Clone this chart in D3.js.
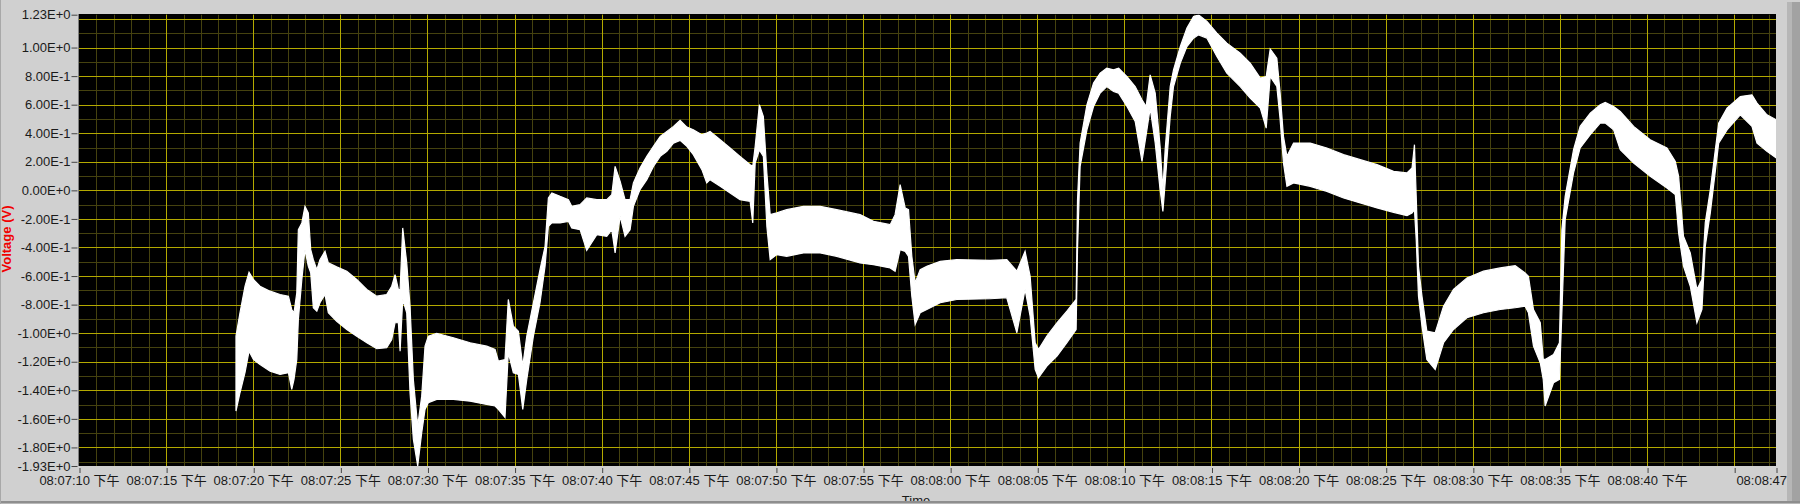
<!DOCTYPE html>
<html><head><meta charset="utf-8">
<script src="https://cdn.jsdelivr.net/npm/d3@7"></script>
<style>html,body{margin:0;padding:0;background:#d0d0d0;overflow:hidden}</style>
</head><body><svg id="c" width="1800" height="504"></svg>
<script>
// ---------------- data ----------------
// seconds after 08:07:10 PM
const timeOffsets = [
 9.01, 9.24, 9.53, 9.76, 10.01, 10.39, 10.97, 11.54, 12.02, 12.21,
 12.34, 12.50, 12.59, 12.79, 12.97, 13.16, 13.30, 13.45, 13.65, 13.83,
 14.12, 14.31, 14.79, 15.37, 15.94, 16.52, 17.09, 17.66, 17.95, 18.14,
 18.33, 18.43, 18.58, 18.81, 19.00, 19.19, 19.44, 19.67, 19.86, 20.05,
 20.53, 21.49, 22.45, 23.40, 23.88, 24.07, 24.45, 24.64, 24.93, 25.22,
 25.47, 25.70, 26.08, 26.46, 26.75, 26.94, 27.14, 27.61, 28.09, 28.28,
 28.76, 29.14, 29.72, 30.29, 30.58, 30.77, 31.06, 31.34, 31.63, 31.82,
 32.20, 32.59, 32.97, 33.36, 33.74, 34.12, 34.50, 34.89, 35.26, 35.75,
 36.03, 36.22, 36.80, 37.37, 37.94, 38.52, 38.67, 38.81, 39.05, 39.28,
 39.48, 39.67, 40.05, 40.62, 41.58, 42.54, 43.49, 44.83, 45.60, 46.56,
 46.84, 47.13, 47.42, 47.61, 47.80, 47.99, 48.28, 48.66, 49.43, 50.38,
 52.30, 53.25, 53.83, 54.30, 54.59, 54.88, 55.07, 55.55, 56.13, 56.70,
 57.23, 57.31, 57.46, 57.85, 58.23, 58.61, 58.99, 59.38, 59.67, 60.15,
 60.62, 61.01, 61.25, 61.48, 61.77, 62.05, 62.21, 62.34, 62.63, 62.82,
 63.21, 63.59, 63.97, 64.26, 64.74, 65.31, 65.88, 66.65, 67.22, 67.80,
 68.14, 68.37, 68.75, 68.94, 69.13, 69.33, 69.71, 70.67, 71.62, 72.58,
 73.54, 74.50, 75.45, 76.22, 76.51, 76.65, 76.75, 76.88, 77.08, 77.36,
 77.84, 78.32, 78.89, 79.66, 80.61, 81.57, 82.43, 83.00, 83.19, 83.48,
 83.87, 84.04, 84.15, 84.63, 84.97, 85.11, 85.30, 85.78, 86.16, 86.74,
 87.31, 87.60, 88.08, 88.46, 89.23, 90.18, 91.14, 91.62, 91.81, 92.09,
 92.48, 92.86, 93.15, 93.34, 93.63, 94.11, 94.59, 95.35, 96.02, 96.31,
 96.88, 97.42
];
// upper envelope of the noisy voltage trace (V)
const upperV = [
 -1.021, -0.857, -0.671, -0.573, -0.624, -0.671, -0.706, -0.729, -0.741, -0.834,
 -0.857, -0.717, -0.275, -0.228, -0.112, -0.158, -0.415, -0.485, -0.555, -0.485,
 -0.427, -0.508, -0.536, -0.566, -0.624, -0.694, -0.741, -0.729, -0.671, -0.590,
 -0.694, -0.694, -0.263, -0.508, -0.811, -1.324, -1.650, -1.441, -1.091, -1.021,
 -1.002, -1.032, -1.067, -1.091, -1.114, -1.196, -1.184, -0.764, -0.951, -0.986,
 -1.231, -1.021, -0.787, -0.555, -0.392, -0.053, -0.018, -0.042, -0.065, -0.112,
 -0.100, -0.053, -0.065, -0.065, -0.030, 0.168, 0.063, -0.065, -0.065, 0.052,
 0.157, 0.238, 0.308, 0.378, 0.413, 0.448, 0.490, 0.443, 0.424, 0.390,
 0.401, 0.413, 0.355, 0.297, 0.238, 0.180, 0.168, 0.308, 0.599, 0.517,
 0.122, -0.170, -0.158, -0.135, -0.112, -0.112, -0.135, -0.170, -0.217, -0.240,
 -0.170, 0.040, -0.123, -0.135, -0.462, -0.648, -0.555, -0.531, -0.497, -0.485,
 -0.490, -0.485, -0.566, -0.427, -0.601, -1.067, -1.114, -1.021, -0.927, -0.846,
 -0.764, -0.065, 0.331, 0.599, 0.751, 0.821, 0.856, 0.844, 0.856, 0.797,
 0.727, 0.634, 0.587, 0.809, 0.681, 0.308, 0.005, 0.285, 0.727, 0.843,
 1.007, 1.136, 1.217, 1.229, 1.182, 1.101, 1.031, 0.961, 0.891, 0.786,
 0.797, 0.989, 0.926, 0.681, 0.378, 0.238, 0.331, 0.331, 0.297, 0.250,
 0.215, 0.180, 0.133, 0.122, 0.157, 0.320, -0.042, -0.531, -0.741, -0.986,
 -0.997, -0.811, -0.694, -0.613, -0.566, -0.543, -0.527, -0.578, -0.601, -0.834,
 -0.927, -1.184, -1.184, -1.149, -1.067, -0.275, -0.042, 0.285, 0.448, 0.541,
 0.599, 0.615, 0.587, 0.552, 0.448, 0.355, 0.297, 0.203, 0.098, -0.322,
 -0.438, -0.694, -0.624, -0.228, 0.005, 0.471, 0.576, 0.657, 0.669, 0.611,
 0.529, 0.494
];
// lower envelope (V)
const lowerV = [
 -1.545, -1.417, -1.275, -1.126, -1.184, -1.219, -1.266, -1.289, -1.277, -1.394,
 -1.324, -1.184, -0.904, -0.624, -0.415, -0.531, -0.578, -0.822, -0.846, -0.787,
 -0.729, -0.857, -0.916, -0.974, -1.021, -1.067, -1.109, -1.102, -1.044, -0.927,
 -0.927, -1.126, -0.764, -0.857, -1.417, -1.743, -1.930, -1.697, -1.534, -1.487,
 -1.464, -1.464, -1.476, -1.499, -1.510, -1.534, -1.590, -1.137, -1.277, -1.289,
 -1.534, -1.324, -1.021, -0.787, -0.531, -0.252, -0.228, -0.228, -0.217, -0.263,
 -0.275, -0.420, -0.310, -0.322, -0.275, -0.438, -0.182, -0.322, -0.275, -0.112,
 0.005, 0.075, 0.168, 0.238, 0.273, 0.331, 0.350, 0.308, 0.250, 0.145,
 0.052, 0.075, 0.028, -0.018, -0.065, -0.077, -0.228, 0.192, 0.283, 0.238,
 -0.252, -0.485, -0.450, -0.462, -0.438, -0.438, -0.462, -0.508, -0.520, -0.543,
 -0.566, -0.415, -0.427, -0.462, -0.741, -0.939, -0.857, -0.834, -0.787, -0.764,
 -0.759, -0.752, -0.997, -0.694, -0.881, -1.254, -1.312, -1.231, -1.161, -1.067,
 -0.974, -0.415, 0.168, 0.424, 0.587, 0.681, 0.727, 0.692, 0.681, 0.587,
 0.483, 0.203, 0.389, 0.576, 0.331, 0.005, -0.147, 0.052, 0.517, 0.727,
 0.891, 1.007, 1.066, 1.089, 1.066, 0.937, 0.821, 0.727, 0.646, 0.576,
 0.436, 0.797, 0.727, 0.494, 0.192, 0.028, 0.052, 0.028, -0.007, -0.053,
 -0.088, -0.123, -0.154, -0.177, -0.158, -0.135, -0.345, -0.741, -0.951, -1.184,
 -1.254, -1.067, -0.974, -0.892, -0.857, -0.834, -0.822, -0.811, -0.857, -1.091,
 -1.207, -1.324, -1.510, -1.347, -1.324, -0.857, -0.205, 0.122, 0.297, 0.390,
 0.471, 0.471, 0.424, 0.285, 0.192, 0.098, 0.017, -0.030, -0.298, -0.531,
 -0.671, -0.927, -0.834, -0.392, -0.158, 0.331, 0.424, 0.529, 0.448, 0.331,
 0.273, 0.227
];
const yDomain = [-1.93, 1.23];
const yTickValues = [1.23, 1.0, 0.8, 0.6, 0.4, 0.2, 0, -0.2, -0.4, -0.6, -0.8, -1.0, -1.2, -1.4, -1.6, -1.8, -1.93];
const startTime = [20, 7, 10];     // 08:07:10 PM
const spanSeconds = 97.4;          // axis ends at 08:08:47 PM
const amPmLabel = "下午";
const yTitle = "Voltage (V)";
const xTitle = "Time";

// ---------------- chart ----------------
const svg = d3.select("#c");
const L = 79, R = 1776, T = 14.7, B = 466;
const t0 = new Date(2000, 0, 1, startTime[0], startTime[1], startTime[2]);
const tEnd = new Date(+t0 + spanSeconds * 1000);
const x = d3.scaleTime().domain([t0, tEnd]).range([L, R]);
const y = d3.scaleLinear().domain(yDomain).range([B, T]);
const font = "'Liberation Sans','Noto Sans CJK SC',Arial,sans-serif";

svg.append("rect").attr("width", 1800).attr("height", 504).attr("fill", "#d0d0d0");
svg.append("rect").attr("x", L - 1).attr("y", T - 0.7).attr("width", R - L + 1).attr("height", B - T + 0.7).attr("fill", "#000");
svg.append("line").attr("x1", L - 0.5).attr("x2", L - 0.5).attr("y1", T - 0.7).attr("y2", B).attr("stroke", "#808080");

const grid = svg.append("g");
const crisp = v => Math.round(v) + 0.5;
// minor grid
const minorT = d3.timeSecond.every(1).range(t0, tEnd).filter(d => +d > +t0);
grid.selectAll(".mvx").data(minorT).join("line")
  .attr("x1", d => crisp(x(d))).attr("x2", d => crisp(x(d))).attr("y1", T).attr("y2", B)
  .attr("stroke", "#45420f");
const minorY = d3.range(-19, 13).map(i => i / 10);
grid.selectAll(".mhy").data(minorY).join("line")
  .attr("y1", d => crisp(y(d))).attr("y2", d => crisp(y(d))).attr("x1", L).attr("x2", R)
  .attr("stroke", "#45420f");
// major grid
const majorT = d3.timeSecond.every(5).range(t0, tEnd).filter(d => +d > +t0);
grid.selectAll(".Mvx").data(majorT).join("line")
  .attr("x1", d => crisp(x(d))).attr("x2", d => crisp(x(d))).attr("y1", T).attr("y2", B)
  .attr("stroke", "#b3a900");
const majorY = d3.range(-9, 7).map(i => i / 5);
grid.selectAll(".Mhy").data(majorY).join("line")
  .attr("y1", d => crisp(y(d))).attr("y2", d => crisp(y(d))).attr("x1", L).attr("x2", R)
  .attr("stroke", "#b3a900");

// data band
svg.append("clipPath").attr("id", "clip").append("rect")
  .attr("x", L).attr("y", T).attr("width", R - L).attr("height", B - T);
const data = timeOffsets.map((s, i) => ({t: new Date(+t0 + s * 1000), hi: upperV[i], lo: lowerV[i]}));
const area = d3.area().x(d => x(d.t)).y0(d => y(d.lo)).y1(d => y(d.hi));
svg.append("path").datum(data).attr("clip-path", "url(#clip)")
  .attr("d", area).attr("fill", "#fff").attr("stroke", "#fff").attr("stroke-width", 1.2);

// y axis
const fmtE = v => {
  if (Math.abs(v) < 1e-12) return "0.00E+0";
  const e = Math.floor(Math.log10(Math.abs(v)) + 1e-9);
  const m = v / Math.pow(10, e);
  return m.toFixed(2) + "E" + (e >= 0 ? "+" + e : e);
};
const yAxis = svg.append("g").attr("transform", "translate(77.5,0)")
  .call(d3.axisLeft(y).tickValues(yTickValues).tickFormat(fmtE).tickSize(6).tickPadding(1));
yAxis.select(".domain").remove();
yAxis.selectAll(".tick line").attr("stroke", "#444");
yAxis.selectAll("text").attr("font-family", font).attr("font-size", 13).attr("fill", "#1a1a1a");

// x axis
const fmtT = d3.timeFormat("%I:%M:%S");
const xTicks = d3.timeSecond.every(5).range(t0, tEnd).concat([tEnd]);
const xAxis = svg.append("g").attr("transform", "translate(0,468)")
  .call(d3.axisBottom(x).tickValues(xTicks)
    .tickFormat(d => (+d === +tEnd || +tEnd - +d > 4000) ? fmtT(d) + " " + amPmLabel : "")
    .tickSize(5).tickPadding(3));
xAxis.select(".domain").remove();
xAxis.selectAll(".tick line").attr("stroke", "#444").attr("transform", "translate(0.5,0)");
xAxis.selectAll("text").attr("font-family", font).attr("font-size", 13).attr("fill", "#1a1a1a");

// titles
svg.append("text").attr("transform", "translate(11,239) rotate(-90)").attr("text-anchor", "middle")
  .attr("font-family", font).attr("font-size", 13).attr("font-weight", "bold").attr("fill", "#f00000")
  .text(yTitle);
svg.append("text").attr("x", 916).attr("y", 505).attr("text-anchor", "middle")
  .attr("font-family", font).attr("font-size", 13).attr("fill", "#1a1a1a").text(xTitle);

// frame
svg.append("rect").attr("x", 1787).attr("y", 2).attr("width", 5).attr("height", 502).attr("fill", "#b6b6b6");
svg.append("rect").attr("x", 1792).attr("y", 2).attr("width", 8).attr("height", 502).attr("fill", "#a2a2a2");
svg.append("rect").attr("x", 0).attr("y", 501).attr("width", 1800).attr("height", 2).attr("fill", "#8e8e8e");
svg.append("rect").attr("x", 0).attr("y", 503).attr("width", 1800).attr("height", 1).attr("fill", "#b8b8b8");
svg.append("rect").attr("x", 0).attr("y", 0).attr("width", 1).attr("height", 504).attr("fill", "#a8a8a8");
</script></body></html>
